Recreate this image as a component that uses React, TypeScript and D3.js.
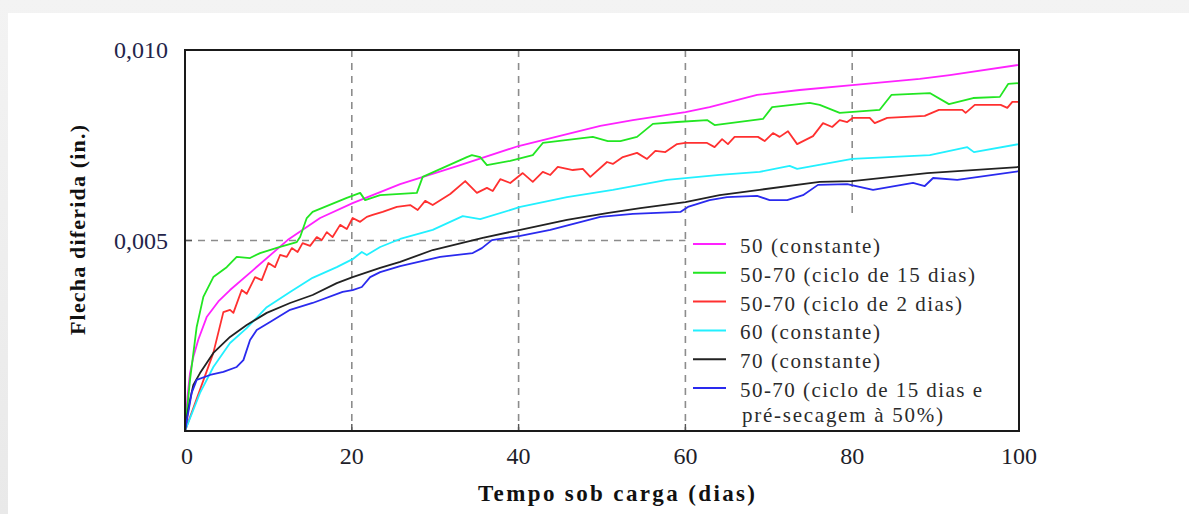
import React from "react";
import * as d3 from "d3";

// x: tempo sob carga (dias), y: flecha diferida in units of 0.001 in.
const serie50Constante: [number, number][] = [
  [0, 0], [0.3, 0.9], [0.6, 1.52], [1.0, 1.94], [1.6, 2.4], [2.6, 2.99], [4.0, 3.4], [5.4, 3.7], [8.2, 4.23],
  [12.3, 5.01], [16.2, 5.59], [20.1, 5.98], [25.8, 6.48], [33.0, 6.98], [40.0, 7.48],
  [49.8, 8.01], [53.7, 8.16], [60.0, 8.37], [62.9, 8.5], [68.6, 8.82], [73.7, 8.95],
  [80.0, 9.08], [88.1, 9.24], [91.7, 9.34], [100, 9.61],
];

const serieCiclo15: [number, number][] = [
  [0, 0], [0.6, 1.34], [1.4, 2.73], [2.2, 3.52], [3.4, 4.04], [5.0, 4.3], [6.2, 4.57], [7.8, 4.54],
  [9.0, 4.67], [11.4, 4.83], [13.4, 4.96], [13.8, 5.09], [14.6, 5.59], [15.3, 5.75], [19.4, 6.12],
  [21.0, 6.25], [21.6, 6.06], [23.4, 6.19], [27.8, 6.25], [28.5, 6.67], [33.8, 7.19], [34.4, 7.24],
  [35.4, 7.19], [36.2, 6.98], [39.0, 7.09], [41.7, 7.24], [42.9, 7.56], [48.9, 7.72], [50.7, 7.61],
  [52.2, 7.61], [54.2, 7.72], [56.1, 8.06], [59.0, 8.11], [62.6, 8.16], [63.5, 8.03], [69.3, 8.19],
  [70.4, 8.5], [74.9, 8.61], [76.1, 8.56], [78.5, 8.35], [83.3, 8.43], [84.7, 8.82], [89.3, 8.87],
  [91.6, 8.58], [94.5, 8.74], [97.7, 8.77], [98.7, 9.11], [100, 9.13],
];

const serieCiclo2: [number, number][] = [
  [0, 0], [3.4, 2.05], [4.6, 3.12], [5.4, 3.18], [5.8, 3.1], [6.8, 3.7], [7.4, 3.6], [8.4, 4.04],
  [9.2, 3.96], [10.0, 4.41], [10.8, 4.3], [11.4, 4.62], [12.2, 4.57], [12.8, 4.8], [13.5, 4.7],
  [14.1, 4.93], [15.0, 4.86], [15.8, 5.09], [16.4, 5.01], [17.0, 5.22], [17.7, 5.09], [18.6, 5.41],
  [19.4, 5.3], [20.1, 5.59], [21.0, 5.49], [21.8, 5.62], [22.5, 5.67], [23.7, 5.75], [25.4, 5.88],
  [27.0, 5.93], [27.9, 5.8], [28.8, 6.04], [29.7, 5.93], [31.8, 6.22], [33.6, 6.56], [35.0, 6.25],
  [36.2, 6.38], [36.9, 6.3], [37.8, 6.61], [39.0, 6.51], [40.5, 6.77], [41.7, 6.54], [42.9, 6.8],
  [43.8, 6.72], [44.7, 6.93], [46.5, 6.85], [47.7, 6.88], [48.6, 6.67], [50.6, 7.06], [51.3, 7.01],
  [52.5, 7.19], [54.2, 7.3], [55.4, 7.14], [56.4, 7.35], [57.6, 7.32], [59.0, 7.53], [60.0, 7.56],
  [62.6, 7.56], [63.5, 7.45], [64.4, 7.66], [65.1, 7.53], [65.9, 7.72], [68.7, 7.72], [69.5, 7.61],
  [70.5, 7.82], [71.3, 7.72], [72.3, 7.87], [73.4, 7.53], [75.3, 7.74], [76.5, 8.08], [77.6, 7.98],
  [78.5, 8.16], [79.4, 8.11], [80.1, 8.22], [82.1, 8.22], [82.7, 8.08], [84.2, 8.22], [88.7, 8.27],
  [90.4, 8.43], [93.2, 8.43], [93.6, 8.35], [94.7, 8.56], [97.8, 8.56], [98.6, 8.48], [99.2, 8.64],
  [100, 8.64],
];

const serie60Constante: [number, number][] = [
  [0, 0], [1.8, 1.0], [3.4, 1.68], [5.4, 2.31], [7.4, 2.7], [9.8, 3.25], [12.6, 3.65], [15.3, 4.02],
  [18.2, 4.3], [20.1, 4.51], [21.2, 4.7], [21.8, 4.62], [23.4, 4.83], [25.8, 5.04], [29.7, 5.28],
  [33.3, 5.64], [35.4, 5.56], [40.2, 5.88], [45.8, 6.14], [51.3, 6.33], [57.8, 6.59], [64.1, 6.72],
  [68.9, 6.8], [72.5, 6.96], [73.4, 6.88], [80.0, 7.14], [89.3, 7.24], [93.8, 7.45], [94.6, 7.32],
  [100, 7.53],
];

const serie70Constante: [number, number][] = [
  [0, 0], [0.3, 0.45], [0.6, 0.81], [1.0, 1.21], [1.8, 1.52], [3.4, 2.05], [5.4, 2.47], [7.4, 2.78],
  [9.8, 3.1], [12.6, 3.36], [15.3, 3.57], [18.2, 3.88], [20.1, 4.04], [23.4, 4.28], [25.8, 4.44],
  [29.7, 4.75], [35.7, 5.07], [40.2, 5.28], [45.8, 5.54], [50.6, 5.72], [54.6, 5.85], [60.0, 6.01],
  [64.1, 6.19], [68.9, 6.33], [76.1, 6.54], [80.0, 6.56], [89.0, 6.77], [100, 6.93],
];

const serieCiclo15PreSecagem: [number, number][] = [
  [0, 0], [0.8, 1.0], [1.4, 1.34], [3.0, 1.47], [4.6, 1.55], [6.2, 1.68], [7.0, 1.86], [7.8, 2.39],
  [8.6, 2.65], [10.2, 2.86], [12.6, 3.18], [15.3, 3.36], [18.9, 3.65], [20.1, 3.7], [21.2, 3.78],
  [22.2, 4.04], [23.4, 4.17], [25.8, 4.33], [30.6, 4.57], [34.5, 4.67], [35.6, 4.8], [36.8, 5.01],
  [40.2, 5.12], [43.8, 5.28], [49.8, 5.62], [53.7, 5.7], [59.4, 5.75], [60.3, 5.88], [62.9, 6.06],
  [65.0, 6.14], [68.6, 6.17], [70.1, 6.06], [72.2, 6.06], [74.1, 6.19], [75.9, 6.46], [79.4, 6.48],
  [82.5, 6.33], [87.3, 6.51], [88.7, 6.43], [89.7, 6.64], [92.6, 6.59], [100, 6.82],
];

const legendLabels = [
  "50 (constante)",
  "50-70 (ciclo de 15 dias)",
  "50-70 (ciclo de 2 dias)",
  "60 (constante)",
  "70 (constante)",
  "50-70 (ciclo de 15 dias e",
];
const legendExtraLine = "pré-secagem à 50%)";
const legendWidths = [140, 235, 222, 140, 140, 242];

const xTicks = [0, 20, 40, 60, 80, 100];
const yTicks = [0.005, 0.01];
const yTickLabels = ["0,005", "0,010"];

const seriesList = [
  { data: serie50Constante, color: "#ff22ff" },
  { data: serieCiclo15, color: "#22e622" },
  { data: serieCiclo2, color: "#ff3030" },
  { data: serie60Constante, color: "#22f0ff" },
  { data: serie70Constante, color: "#222222" },
  { data: serieCiclo15PreSecagem, color: "#2a2aee" },
];

const FONT = "'Liberation Serif', 'Times New Roman', Times, serif";

export default function App() {
  const W = 1189;
  const H = 514;
  const x = d3.scaleLinear().domain([0, 100]).range([185, 1019]);
  const y = d3.scaleLinear().domain([0, 0.01]).range([431, 50]);
  const line = d3
    .line<[number, number]>()
    .x((d) => x(d[0]))
    .y((d) => y(d[1] / 1000));

  const gridColor = "#8c8c8c";
  const dash = "7,6";
  const legendX = 693;
  const legendBase = 253;
  const legendStep = 28.8;

  return (
    <div style={{ position: "absolute", left: 0, top: 0 }}>
      <svg width={W} height={H} style={{ display: "block" }}>
        <defs>
          <linearGradient id="topShade" x1="0" y1="0" x2="0" y2="1">
            <stop offset="0" stopColor="#f3f3f3" />
            <stop offset="1" stopColor="#e9e9e9" />
          </linearGradient>
        </defs>
        <rect x={0} y={0} width={W} height={H} fill="url(#topShade)" />
        <rect x={8} y={13} width={W - 8} height={H - 13} fill="#ffffff" />

        {/* grid */}
        {[20, 40, 60].map((v) => (
          <line key={v} x1={x(v)} x2={x(v)} y1={y(0.01)} y2={y(0)} stroke={gridColor} strokeWidth={1.6} strokeDasharray={dash} />
        ))}
        <line x1={x(80)} x2={x(80)} y1={y(0.01)} y2={218} stroke={gridColor} strokeWidth={1.6} strokeDasharray={dash} />
        <line x1={x(0)} x2={x(60)} y1={y(0.005)} y2={y(0.005)} stroke={gridColor} strokeWidth={1.6} strokeDasharray={dash} />

        {/* small ticks */}
        {[20, 40, 60].map((v) => (
          <line key={"t" + v} x1={x(v)} x2={x(v)} y1={y(0)} y2={y(0) - 7} stroke="#555" strokeWidth={1.4} />
        ))}
        <line x1={x(0)} x2={x(0) + 7} y1={y(0.005)} y2={y(0.005)} stroke="#555" strokeWidth={1.4} />

        {/* series */}
        {seriesList.map((s, i) => (
          <path key={i} d={line(s.data) || ""} fill="none" stroke={s.color} strokeWidth={1.8} strokeLinejoin="round" />
        ))}

        {/* legend */}
        {legendLabels.map((lab, i) => {
          const base = legendBase + i * legendStep;
          return (
            <g key={lab}>
              <line x1={legendX} x2={legendX + 33} y1={base - 9} y2={base - 9} stroke={seriesList[i].color} strokeWidth={2} />
              <text x={740} y={base} fontFamily={FONT} fontSize={21} fill="#2b2b2b" textLength={legendWidths[i]} lengthAdjust="spacing">
                {lab}
              </text>
            </g>
          );
        })}
        <text x={742} y={422} fontFamily={FONT} fontSize={21} fill="#2b2b2b" textLength={201} lengthAdjust="spacing">
          {legendExtraLine}
        </text>

        {/* frame */}
        <rect x={x(0)} y={y(0.01)} width={x(100) - x(0)} height={y(0) - y(0.01)} fill="none" stroke="#1a1a1a" strokeWidth={2} />

        {/* tick labels */}
        {xTicks.map((v) => (
          <text key={"xl" + v} x={x(v) + (v === 0 ? 2 : 0)} y={464} textAnchor="middle" fontFamily={FONT} fontSize={24} fill="#1e1e2a">
            {v}
          </text>
        ))}
        {yTicks.map((v, i) => (
          <text key={"yl" + v} x={168} y={y(v) + 8} textAnchor="end" fontFamily={FONT} fontSize={24} fill="#24244a">
            {yTickLabels[i]}
          </text>
        ))}

        {/* axis titles */}
        <text x={478} y={501} fontFamily={FONT} fontSize={23} fontWeight="bold" fill="#111" textLength={277} lengthAdjust="spacing">
          Tempo sob carga (dias)
        </text>
        <text
          transform={`translate(85, 335) rotate(-90)`}
          x={0}
          y={0}
          fontFamily={FONT}
          fontSize={22}
          fontWeight="bold"
          fill="#111"
          textLength={210}
          lengthAdjust="spacing"
        >
          Flecha diferida (in.)
        </text>
      </svg>
    </div>
  );
}
